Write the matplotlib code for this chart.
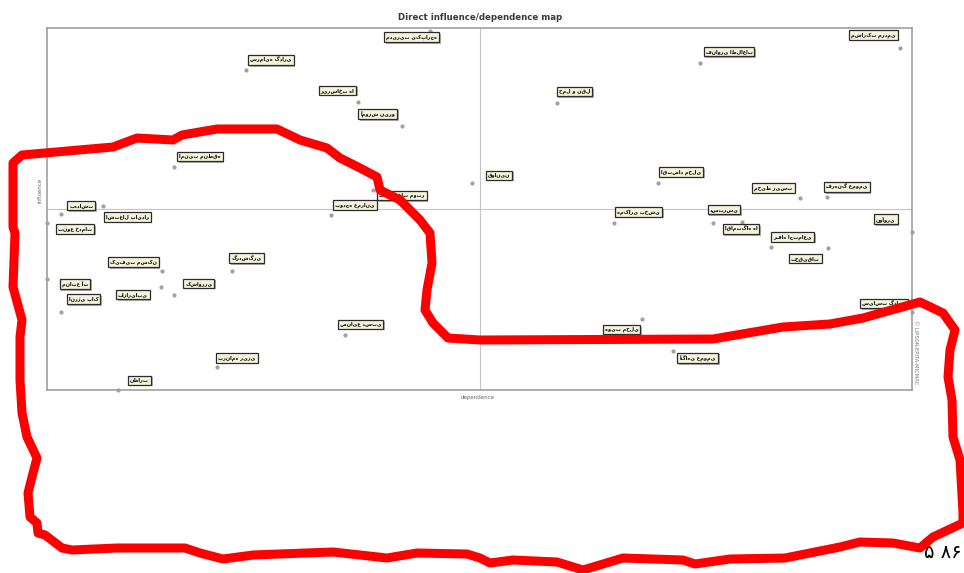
import numpy as np
import matplotlib
matplotlib.use('Agg')
import matplotlib.pyplot as plt
from matplotlib.lines import Line2D
import matplotlib.patheffects as pe

plt.rcParams['font.family'] = ['DejaVu Sans']

# variables of the MICMAC map (labels are blurry in the source, approximate)
names = ['مدیریت یکپارچه', 'سرمایه گذاری', 'زیرساخت ها', 'آموزش نیرو', 'امنیت منطقه',
         'تبلیغات موثر', 'قوانین', 'مشارکت مردمی', 'فناوری اطلاعات', 'حمل و نقل',
         'اقتصاد محلی', 'محیط زیست', 'فرهنگ عمومی', 'بهداشت', 'اشتغال پایدار',
         'تنوع خدمات', 'کیفیت مسکن', 'گردشگری', 'منابع آب', 'انرژی پاک',
         'بازاریابی', 'کشاورزی', 'صنایع دستی', 'برنامه ریزی', 'نظارت',
         'بودجه عمرانی', 'همکاری بخشی', 'دسترسی', 'اقامتگاه ها', 'رفاه اجتماعی',
         'تحقیقات', 'نوآوری', 'سیاست گذاری', 'هویت محلی', 'آگاهی عمومی']

dependence = [26.6, 13.8, 21.6, 24.6, 8.8, 22.6, 29.5, 59.2, 45.3, 35.4,
              42.4, 52.2, 54.1, 1.0, 3.9, 0.0, 8.0, 12.8, 0.0, 1.0,
              7.9, 8.8, 20.7, 11.8, 4.9, 19.7, 39.3, 46.2, 48.2, 50.2,
              54.2, 60.0, 60.0, 41.3, 43.4]

influence = [59.5, 53.0, 47.7, 43.8, 37.0, 33.2, 34.3, 56.7, 54.2, 47.6,
             34.3, 31.8, 32.0, 29.2, 30.5, 27.7, 19.7, 19.7, 18.4, 12.9,
             17.1, 15.7, 9.1, 3.8, 0.0, 29.0, 27.7, 27.7, 27.8, 23.7,
             23.5, 26.2, 13.0, 11.8, 6.5]

# where each label box sits relative to its point (pixels)
label_offsets = [(-19, -6), (25, 10), (-21, 12), (-24, 12), (26, 10), (29, -6), (27, 8),
                 (-27, 13), (29, 11), (17, 11), (23, 11), (-26, 10), (20, 10), (20, 8),
                 (24, -11), (28, -6), (-29, 9), (15, 13), (28, -5), (22, 13), (-28, -8),
                 (25, 12), (15, 11), (20, 9), (22, 10), (24, 10), (25, 11), (11, 13),
                 (-1, -7), (22, 10), (-23, -10), (-26, 13), (-28, 8), (-21, -11), (25, -7)]

# hand drawn red outline over the picture (figure pixels)
outline_px = [(400, 200), (410, 210), (420, 220), (430, 233), (432, 263), (427, 290),
              (425, 310), (433, 323), (448, 338), (480, 340), (713, 339), (783, 327),
              (830, 324), (863, 318), (920, 302), (943, 313), (955, 330), (950, 350),
              (948, 377), (952, 400), (953, 437), (960, 460), (963, 513), (963, 523),
              (933, 537), (920, 548), (893, 543), (860, 542), (840, 547), (785, 558),
              (730, 559), (695, 564), (683, 560), (623, 558), (583, 570), (557, 562),
              (513, 560), (490, 563), (480, 558), (467, 554), (417, 553), (387, 558),
              (333, 552), (253, 555), (223, 559), (200, 553), (185, 548), (117, 548),
              (72, 550), (62, 548), (45, 535), (38, 533), (37, 523), (30, 517),
              (28, 493), (32, 477), (37, 458), (27, 437), (22, 413), (20, 380),
              (20, 337), (22, 320), (13, 287), (15, 233), (13, 227), (13, 163),
              (22, 155), (113, 147), (137, 138), (173, 140), (182, 135), (217, 129),
              (277, 129), (300, 140), (327, 148), (340, 158), (360, 168), (377, 177),
              (380, 190), (400, 200)]

W, H = 964, 573
fig = plt.figure(figsize=(W / 100, H / 100), dpi=100)
ax = fig.add_axes([47 / W, (H - 390) / H, 865 / W, 362 / H])

ax.set_xlim(0, 60)
ax.set_ylim(0, 60)
ax.set_xticks([])
ax.set_yticks([])
for s in ax.spines.values():
    s.set_color('#a0a0a0')
    s.set_linewidth(1.2)

ax.axhline(30, color='#c4c4c4', lw=0.8, zorder=1)
ax.axvline(30, color='#c4c4c4', lw=0.8, zorder=1)

ax.plot(dependence, influence, 'o', ms=2, color='#a0a0a0', clip_on=False, zorder=3)

for i in range(len(names)):
    t = ax.annotate(names[i], (dependence[i], influence[i]), xytext=label_offsets[i],
                    textcoords='offset pixels', ha='center', va='center',
                    fontsize=3.6, fontweight='bold', color='black', zorder=5,
                    annotation_clip=False,
                    bbox=dict(boxstyle='square,pad=0.4', fc='#f4f4dc', ec='#2b2b2b', lw=0.9))
    t.get_bbox_patch().set_path_effects([pe.SimplePatchShadow(offset=(1.2, -1.2), shadow_rgbFace='#9a9a9a', alpha=0.8),
                                         pe.Normal()])

fig.text(480 / W, 1 - 18 / H, 'Direct influence/dependence map', ha='center', va='center',
         fontsize=6.2, fontweight='bold', color='#3a3a3a')
fig.text(40 / W, 1 - 190 / H, 'influence', rotation=90, ha='center', va='center',
         fontsize=4, color='#666666')
fig.text(478 / W, 1 - 397 / H, 'dependence', ha='center', va='center',
         fontsize=4, color='#666666')
fig.text(916 / W, 1 - 352 / H, '© LIPSOR-EPITA-MICMAC', rotation=270, ha='center', va='center',
         fontsize=3.8, color='#777777')

# page number
fig.text(962 / W, 1 - 553 / H, '۵ ۸۶', ha='right', va='center', fontsize=14, color='black')

ox = [p[0] / W for p in outline_px]
oy = [1 - p[1] / H for p in outline_px]
fig.add_artist(Line2D(ox, oy, transform=fig.transFigure, color='#ff0000', lw=6.5,
                      solid_joinstyle='round', solid_capstyle='round', zorder=10))

fig.savefig('out.png', dpi=100, facecolor='white')
